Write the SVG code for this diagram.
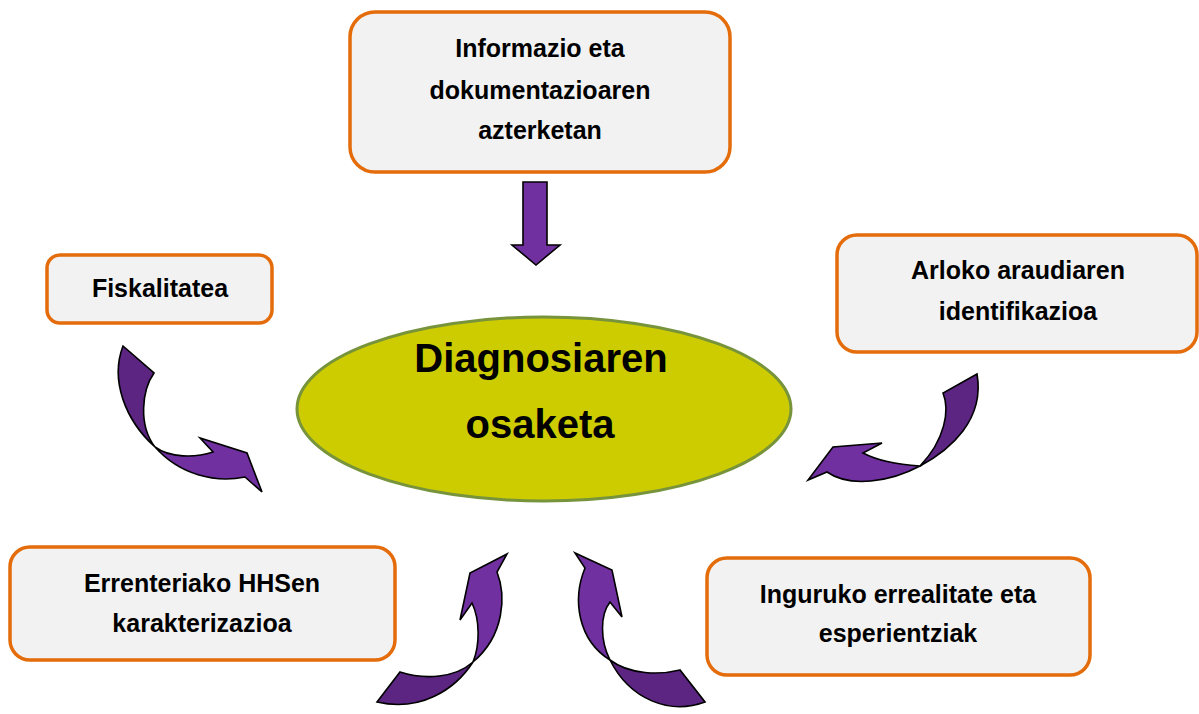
<svg xmlns="http://www.w3.org/2000/svg" width="1199" height="714" viewBox="0 0 1199 714">
<style>
.box{fill:#f2f2f2;stroke:#e46c0a;stroke-width:3.5}
.t{font-family:"Liberation Sans",Arial,sans-serif;font-weight:bold;font-size:25px;fill:#000;text-anchor:middle}
.big{font-family:"Liberation Sans",Arial,sans-serif;font-weight:bold;font-size:40px;fill:#000;text-anchor:middle}
.dk{fill:#5b2581;stroke:#000;stroke-width:1.6;stroke-linejoin:miter}
.lt{fill:#7030a0;stroke:#000;stroke-width:1.6;stroke-linejoin:miter}
</style>
<rect width="1199" height="714" fill="#ffffff"/>
<g id="connectors">
  <path class="lt" d="M523,182 L547,182 L547,245 L560,245 L536,265 L512,245 L523,245 Z"/>
  <g id="arrow-fiskalitatea">
    <path class="dk" d="M123,346 L154,373 C142,390 138,425 155,447 C125,420 110,380 123,346 Z"/>
    <path class="lt" d="M155,447 C170,458 195,458 213,452 L200,438 L247,453 L262,492 L245,477 C215,483 180,475 155,447 Z"/>
  </g>
  <g id="arrow-arloko">
    <path class="dk" d="M977,374 L943,393 C950,410 945,440 920,466 C950,450 985,420 977,374 Z"/>
    <path class="lt" d="M920,466 C905,465 880,462 863,453 L882,443 L833,447 L808,480 L827,472 C850,488 890,482 920,466 Z"/>
  </g>
  <g id="arrow-errenteriako">
    <path class="dk" d="M377,702 L400,672 C425,680 455,678 473,662 C455,690 420,712 377,702 Z"/>
    <path class="lt" d="M473,662 C480,645 480,620 472,603 L460,620 L470,573 L507,554 L497,572 C506,595 505,635 473,662 Z"/>
  </g>
  <g id="arrow-inguruko">
    <path class="lt" d="M610,660 C600,640 600,615 610,602 L622,617 L612,570 L575,553 L585,568 C572,600 578,640 610,660 Z"/>
    <path class="dk" d="M610,660 C630,675 660,675 680,670 L705,702 C670,715 630,700 610,660 Z"/>
  </g>
</g>
<g id="node-diagnosia">
  <ellipse cx="544" cy="409" rx="247" ry="92" fill="#cccc00" stroke="#77933c" stroke-width="3"/>
  <text class="big" x="541" y="372">Diagnosiaren</text>
  <text class="big" x="540" y="438">osaketa</text>
</g>
<g id="node-informazio">
  <rect class="box" x="350" y="12" width="380" height="160" rx="25"/>
  <text class="t" x="540" y="57">Informazio eta</text>
  <text class="t" x="540" y="99">dokumentazioaren</text>
  <text class="t" x="540" y="139">azterketan</text>
</g>
<g id="node-fiskalitatea">
  <rect class="box" x="47" y="255" width="225" height="68" rx="13"/>
  <text class="t" x="160" y="297">Fiskalitatea</text>
</g>
<g id="node-arloko">
  <rect class="box" x="837" y="235" width="360" height="117" rx="20"/>
  <text class="t" x="1018" y="279">Arloko araudiaren</text>
  <text class="t" x="1018" y="320">identifikazioa</text>
</g>
<g id="node-errenteriako">
  <rect class="box" x="10" y="547" width="385" height="113" rx="20"/>
  <text class="t" x="202" y="592">Errenteriako HHSen</text>
  <text class="t" x="202" y="632">karakterizazioa</text>
</g>
<g id="node-inguruko">
  <rect class="box" x="707" y="558" width="383" height="117" rx="20"/>
  <text class="t" x="898" y="603">Inguruko errealitate eta</text>
  <text class="t" x="898" y="642">esperientziak</text>
</g>
</svg>
